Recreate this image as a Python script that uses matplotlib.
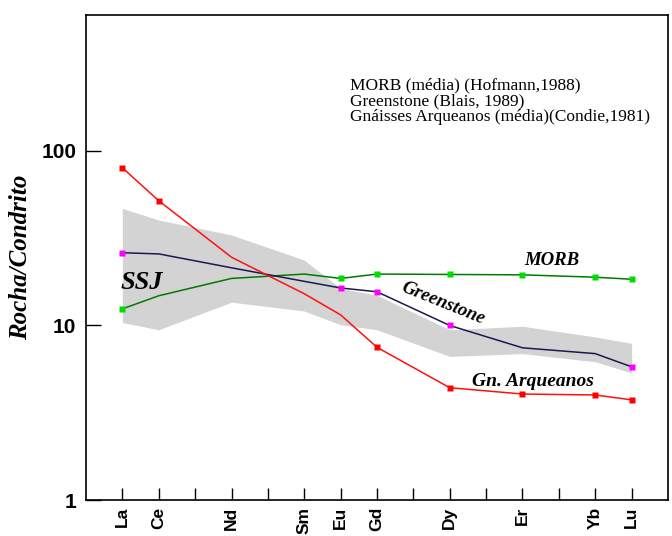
import numpy as np
import matplotlib.pyplot as plt

# Elementos terras raras (posições na série completa La..Lu)
elementos = ['La', 'Ce', 'Pr', 'Nd', 'Pm', 'Sm', 'Eu', 'Gd', 'Tb', 'Dy', 'Ho', 'Er', 'Tm', 'Yb', 'Lu']
rotulos = ['La', 'Ce', '', 'Nd', '', 'Sm', 'Eu', 'Gd', '', 'Dy', '', 'Er', '', 'Yb', 'Lu']

# posições (índices) dos elementos analisados
pos = [0, 1, 3, 5, 6, 7, 9, 11, 13, 14]

# Gnáisses Arqueanos (Condie, 1981)
gn_arq = [80, 51.8, 24.6, 15.2, 11.5, 7.5, 4.4, 4.05, 4.0, 3.75]
gn_arq_marc = [0, 1, 5, 6, 7, 8, 9]

# Greenstone (Blais, 1989)
greenstone = [26.1, 25.7, 21.4, 17.9, 16.4, 15.6, 10.0, 7.45, 6.9, 5.8]
green_marc = [0, 4, 5, 6, 9]

# MORB (Hofmann, 1988)
morb = [12.45, 14.8, 18.6, 19.7, 18.6, 19.7, 19.6, 19.5, 18.9, 18.4]
morb_marc = [0, 4, 5, 6, 7, 8, 9]

# Campo SSJ (limites superior e inferior)
ssj_sup = [46.8, 40.2, 33.0, 23.7, 16.3, 14.9, 9.45, 9.9, 8.6, 7.9]
ssj_inf = [10.4, 9.45, 13.6, 12.1, 10.1, 9.45, 6.65, 6.9, 6.2, 5.35]

serif = 'Liberation Serif'
sans = 'Liberation Sans'

fig = plt.figure(figsize=(6.72, 5.36), dpi=100)
ax = fig.add_axes([0.128, 0.067, 0.866, 0.905])

ax.fill_between(pos, ssj_inf, ssj_sup, color='#d3d3d3', linewidth=0, zorder=1)

ax.plot(pos, morb, color='#007a00', lw=1.1, zorder=3)
ax.plot([pos[i] for i in morb_marc], [morb[i] for i in morb_marc], 's',
        color='#00dd00', ms=3.8, mec='none', zorder=4)

ax.plot(pos, greenstone, color='#1a1a50', lw=1.1, zorder=3)
ax.plot([pos[i] for i in green_marc], [greenstone[i] for i in green_marc], 's',
        color='#ff00ff', ms=3.8, mec='none', zorder=4)

ax.plot(pos, gn_arq, color='#ff1010', lw=1.1, zorder=3)
ax.plot([pos[i] for i in gn_arq_marc], [gn_arq[i] for i in gn_arq_marc], 's',
        color='#ff0000', ms=3.8, mec='none', zorder=4)

ax.set_yscale('log')
ax.set_ylim(1, 600)
ax.set_xlim(-1, 15)

ax.set_yticks([1, 10, 100])
ax.set_yticklabels(['1', '10', '100'])
ax.yaxis.set_minor_locator(plt.NullLocator())
ax.set_xticks(range(len(elementos)))
ax.set_xticklabels(rotulos, rotation=90)

ax.tick_params(axis='y', direction='in', length=11, width=1, pad=7,
               labelsize=15)
ax.tick_params(axis='x', direction='in', length=9, width=1, pad=5,
               labelsize=12.5)
for lab in ax.get_xticklabels() + ax.get_yticklabels():
    lab.set_fontweight('bold')
    lab.set_family(sans)
for s in ax.spines.values():
    s.set_linewidth(1.2)

ax.set_ylabel('Rocha/Condrito', fontsize=18, fontweight='bold', style='italic',
              family=serif)
ax.yaxis.set_label_coords(-0.093, 0.5)

# textos internos
ax.text(-0.05, 17.6, 'SSJ', fontsize=19, fontweight='bold', style='italic',
        family=serif, ha='left', va='center', zorder=5)
ax.text(11.8, 23.6, 'MORB', fontsize=13.5, fontweight='bold', style='italic',
        family=serif, ha='center', va='center')
ax.text(8.82, 13.4, 'Greenstone', fontsize=13.5, fontweight='bold', style='italic',
        family=serif, ha='center', va='center', rotation=-22)
ax.text(11.3, 4.79, 'Gn. Arqueanos', fontsize=14, fontweight='bold', style='italic',
        family=serif, ha='center', va='center')

ax.text(6.25, 262, 'MORB (média) (Hofmann,1988)\nGreenstone (Blais, 1989)\n'
        'Gnáisses Arqueanos (média)(Condie,1981)', fontsize=12.5, family=serif,
        ha='left', va='top', linespacing=0.95)

fig.savefig('out.png', dpi=100)
